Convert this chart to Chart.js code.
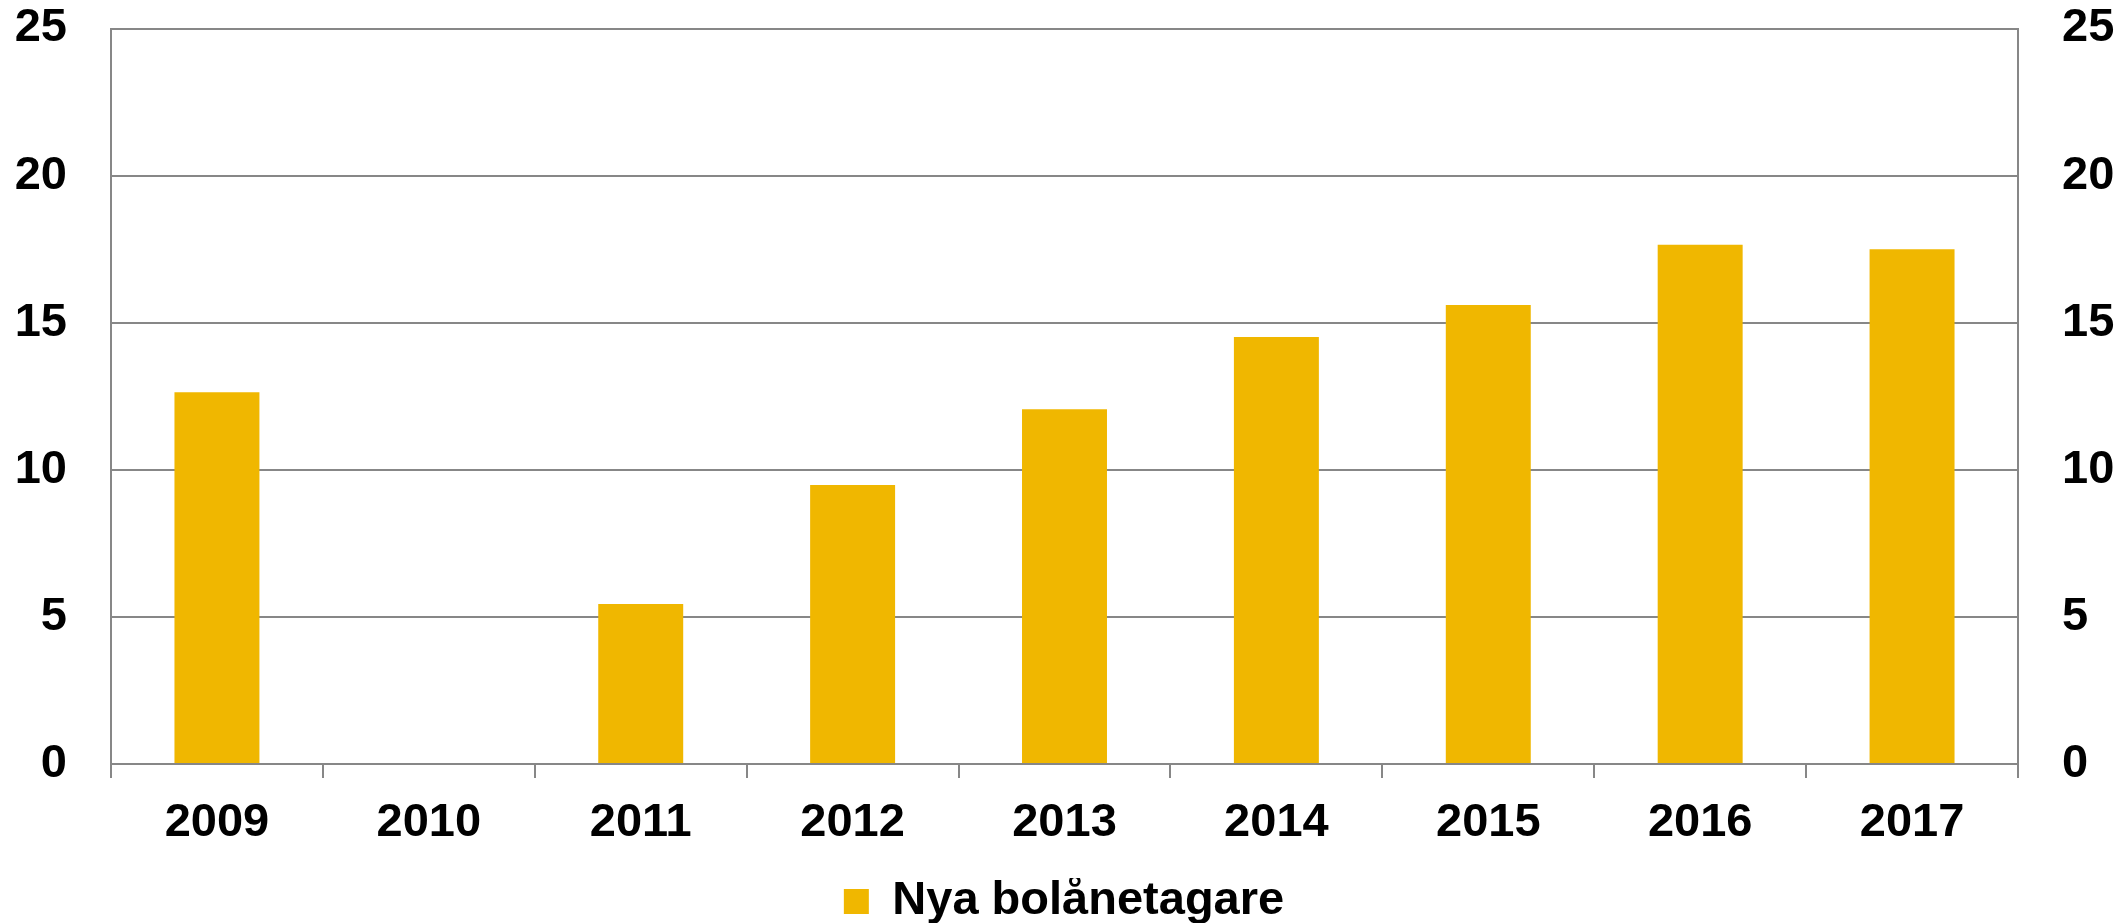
<!DOCTYPE html>
<html>
<head>
<meta charset="utf-8">
<script src="https://cdn.jsdelivr.net/npm/chart.js@4/dist/chart.umd.min.js"></script>
<style>
  html, body { margin: 0; padding: 0; background: #fff; }
  #wrap { width: 2128px; height: 923px; }
</style>
</head>
<body>
<div id="wrap"><canvas id="chart" width="2128" height="923"></canvas></div>
<script>
// data
const years = ['2009', '2010', '2011', '2012', '2013', '2014', '2015', '2016', '2017'];
const nyaBolanetagare = [12.64, null, 5.44, 9.48, 12.06, 14.51, 15.6, 17.65, 17.5];
const yTicks = [0, 5, 10, 15, 20, 25];

const barColor = 'rgb(240, 183, 0)';
const lineColor = '#878787';
const font = { family: '"Liberation Sans", Arial, sans-serif', size: 47, weight: 'bold' };

Chart.defaults.color = '#000';

// y axes: fixed width, no extra room for half-labels at the ends
const fitY = w => axis => {
    axis.width = w;
    axis.paddingTop = 0;
    axis.paddingBottom = 0;
};

new Chart(document.getElementById('chart').getContext('2d'), {
    type: 'bar',
    data: {
        labels: years,
        datasets: [{
            label: 'Nya bolånetagare',
            data: nyaBolanetagare,
            backgroundColor: barColor,
            borderWidth: 0,
            categoryPercentage: 1,
            barPercentage: 0.401,
            yAxisID: 'y'
        }]
    },
    options: {
        responsive: false,
        animation: false,
        devicePixelRatio: 1,
        // legend hangs a little past the bottom edge (empty space below its text)
        layout: { padding: { top: 28.5, right: 0, bottom: -12, left: 0 } },
        plugins: {
            tooltip: { enabled: false },
            legend: {
                position: 'bottom',
                labels: {
                    font: font,
                    boxWidth: 25,
                    boxHeight: 25,
                    padding: 0,
                    color: '#000'
                }
            }
        },
        scales: {
            x: {
                offset: true,
                afterFit: axis => { axis.height = 114; },
                grid: {
                    offset: true,
                    drawOnChartArea: false,
                    color: lineColor,
                    lineWidth: 2,
                    tickLength: 14
                },
                border: { color: lineColor, width: 2 },
                ticks: { font: font, padding: 17, maxRotation: 0 }
            },
            y: {
                position: 'left',
                min: 0,
                max: 25,
                afterBuildTicks: axis => { axis.ticks = yTicks.map(v => ({ value: v })); },
                afterFit: fitY(111),
                grid: { color: lineColor, lineWidth: 2, drawTicks: false },
                border: { color: lineColor, width: 2 },
                ticks: { font: font, padding: 44 }
            },
            y2: {
                position: 'right',
                min: 0,
                max: 25,
                afterBuildTicks: axis => { axis.ticks = yTicks.map(v => ({ value: v })); },
                afterFit: fitY(110),
                grid: { drawOnChartArea: false, drawTicks: false },
                border: { color: lineColor, width: 2 },
                ticks: { font: font, padding: 44 }
            }
        }
    }
});
</script>
</body>
</html>
